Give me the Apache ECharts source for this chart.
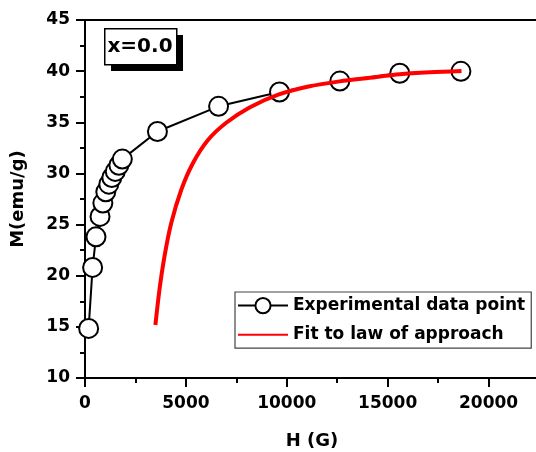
<!DOCTYPE html>
<html>
<head>
<meta charset="utf-8">
<script src="https://cdn.jsdelivr.net/npm/echarts@6/dist/echarts.min.js"></script>
<style>html,body{margin:0;padding:0;background:#fff;}#c{width:536px;height:452px;}</style>
</head>
<body>
<div id="c"></div>
<script>
// Experimental data (H in G, M in emu/g)
var expH = [180, 377, 545, 745, 885, 1030, 1180, 1330, 1500, 1680, 1850, 3590, 6620, 9640, 12630, 15600, 18630];
var expM = [14.85, 20.81, 23.8, 25.8, 27.1, 28.2, 28.95, 29.6, 30.2, 30.8, 31.4, 34.1, 36.56, 37.96, 39.03, 39.79, 39.98];
// Fit to law of approach
var fitH = [3489, 3687, 3935, 4268, 4764, 5340, 6084, 6998, 8154, 9608, 11132, 12620, 14110, 15600, 17090, 18660];
var fitM = [15.18, 18.59, 21.85, 25.11, 28.36, 30.97, 33.24, 34.95, 36.45, 37.72, 38.52, 39.0, 39.35, 39.69, 39.88, 40.01];
var seriesNames = ['Experimental data point', 'Fit to law of approach'];
var xTitle = 'H (G)';
var yTitle = 'M(emu/g)';
var boxLabel = 'x=0.0';

var FONT = 'DejaVu Sans';
function pairs(a, b) { return a.map(function (v, i) { return [v, b[i]]; }); }

var chart = echarts.init(document.getElementById('c'), null, { renderer: 'canvas' });
chart.setOption({
  animation: false,
  backgroundColor: '#fff',
  grid: { left: 85, top: 20, width: 454, height: 358, outerBoundsMode: 'none', containLabel: false, show: true, borderColor: '#000', borderWidth: 2, backgroundColor: 'transparent' },
  xAxis: {
    type: 'value', min: 0, max: 22500, interval: 5000,
    name: xTitle, nameLocation: 'middle', nameGap: 54,
    nameTextStyle: { fontFamily: FONT, fontWeight: 'bold', fontSize: 18, color: '#000' },
    axisLine: { show: true, lineStyle: { color: '#000', width: 2 } },
    axisTick: { show: true, inside: false, length: 9, lineStyle: { color: '#000', width: 2 } },
    minorTick: { show: true, splitNumber: 2, length: 5, lineStyle: { color: '#000', width: 2 } },
    axisLabel: {
      showMaxLabel: false, margin: 17, fontFamily: FONT, fontWeight: 'bold', fontSize: 17, color: '#000',
      formatter: function (v) { return v % 5000 === 0 ? String(v) : ''; }
    },
    splitLine: { show: false }
  },
  yAxis: {
    type: 'value', min: 10, max: 45, interval: 5,
    name: yTitle, nameLocation: 'middle', nameGap: 58, nameRotate: 90,
    nameTextStyle: { fontFamily: FONT, fontWeight: 'bold', fontSize: 18, color: '#000' },
    axisLine: { show: true, lineStyle: { color: '#000', width: 2 } },
    axisTick: { show: true, inside: false, length: 9, lineStyle: { color: '#000', width: 2 } },
    minorTick: { show: true, splitNumber: 2, length: 5, lineStyle: { color: '#000', width: 2 } },
    axisLabel: { margin: 15, fontFamily: FONT, fontWeight: 'bold', fontSize: 17, color: '#000' },
    splitLine: { show: false }
  },
  legend: {
    orient: 'vertical', left: 235, top: 292,
    backgroundColor: '#fff', borderColor: '#444', borderWidth: 1.2, borderRadius: 0,
    padding: [5, 6, 5, 2], itemWidth: 50, itemHeight: 19, itemGap: 12,
    textStyle: { fontFamily: FONT, fontWeight: 'bold', fontSize: 17, color: '#000' },
    data: [seriesNames[0], { name: seriesNames[1], itemStyle: { opacity: 0 } }]
  },
  graphic: [
    { type: 'rect', left: 111, top: 35, shape: { width: 72, height: 36 }, style: { fill: '#000' }, z: 10 },
    { type: 'rect', left: 104, top: 28, shape: { width: 72, height: 36 }, style: { fill: '#fff', stroke: '#000', lineWidth: 1.5 }, z: 11 },
    { type: 'text', x: 140, y: 47, style: { text: boxLabel, fontFamily: FONT, fontWeight: 'bold', fontSize: 20, fill: '#000', align: 'center', verticalAlign: 'middle' }, z: 12 }
  ],
  series: [
    {
      name: seriesNames[0], type: 'line', data: pairs(expH, expM),
      symbol: 'circle', symbolSize: 19, showSymbol: true,
      lineStyle: { color: '#000', width: 2 },
      itemStyle: { color: '#fff', borderColor: '#000', borderWidth: 2 },
      z: 2
    },
    {
      name: seriesNames[1], type: 'line', data: pairs(fitH, fitM),
      smooth: 0.3, showSymbol: false, symbol: 'none',
      lineStyle: { color: '#ff0000', width: 4 },
      itemStyle: { color: '#ff0000' },
      z: 3
    }
  ]
});
</script>
</body>
</html>
